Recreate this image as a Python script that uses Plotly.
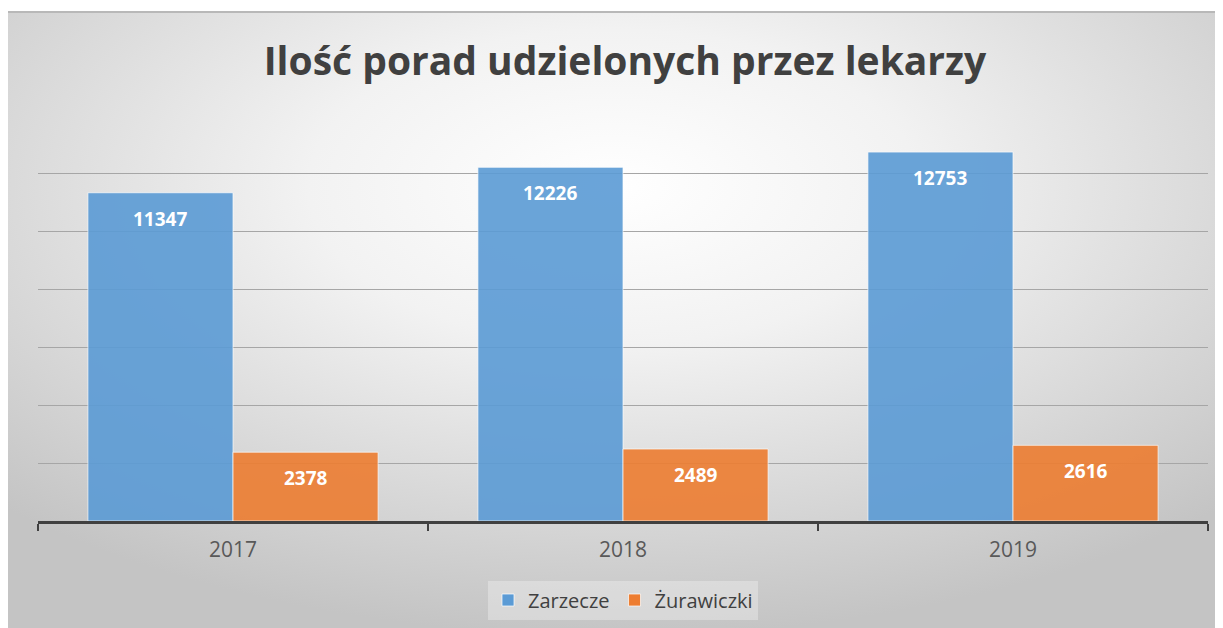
import base64
import plotly.graph_objects as go

# ---- data ----
years = ["2017", "2018", "2019"]
zarzecze = [11347, 12226, 12753]
zurawiczki = [2378, 2489, 2616]
series_names = ["Zarzecze", "Żurawiczki"]
title_text = "Ilość porad udzielonych przez lekarzy"

# ---- geometry (page has an 8px body margin, so figure coords = screen - 8) ----
OFF = 8
W, H = 1223, 628
PLOT_L, PLOT_R, PLOT_T, PLOT_B = 38 - OFF, 1208 - OFF, 116 - OFF, 521 - OFF
L, R, T, B = PLOT_L, W - PLOT_R, PLOT_T, H - PLOT_B
PW, PH = W - L - R, H - T - B
BARGAP = 0.256


def px_x(sx):
    return (sx - OFF - L) / PW


def px_y(sy):
    return (H - B - (sy - OFF)) / PH


BLUE = "#5B9BD5"
ORANGE = "#ED7D31"
FONT = "Open Sans"

svg = (
    '<svg xmlns="http://www.w3.org/2000/svg" width="1210" height="616" '
    'preserveAspectRatio="none" viewBox="0 0 1210 616">'
    '<defs><radialGradient id="g" cx="50%" cy="28%" r="72%" fx="50%" fy="28%">'
    '<stop offset="0%" stop-color="#ffffff"/>'
    '<stop offset="35%" stop-color="#f2f2f2"/>'
    '<stop offset="100%" stop-color="#c4c4c4"/>'
    '</radialGradient></defs>'
    '<rect x="0" y="0" width="1210" height="616" fill="url(#g)"/></svg>'
)
bg_src = "data:image/svg+xml;base64," + base64.b64encode(svg.encode()).decode()

fig = go.Figure()
for name, vals, col in [(series_names[0], zarzecze, BLUE), (series_names[1], zurawiczki, ORANGE)]:
    fig.add_trace(go.Bar(
        x=years, y=vals, name=name,
        marker=dict(color=col, opacity=0.9, line=dict(color="rgba(255,255,255,0.7)", width=1)),
        hoverinfo="x+y+name",
    ))

# data labels (positioned in data coordinates: category index + value)
bar_w = PW / len(years) * (1 - BARGAP) / 2
annotations = []
for vals, shift in [(zarzecze, -bar_w / 2), (zurawiczki, bar_w / 2)]:
    for i, v in enumerate(vals):
        annotations.append(dict(
            x=i, y=v, xref="x", yref="y", text=f"<b>{v}</b>", showarrow=False,
            xshift=shift, yshift=-11, yanchor="top", xanchor="center",
            font=dict(family=FONT, size=19, color="white"),
        ))

fig.update_layout(
    width=W, height=H,
    margin=dict(l=L, r=R, t=T, b=B, pad=0),
    paper_bgcolor="white",
    plot_bgcolor="rgba(0,0,0,0)",
    barmode="group", bargap=BARGAP, bargroupgap=0,
    font=dict(family=FONT, color="#595959"),
    title=dict(
        text=f"<b>{title_text}</b>", x=(625 - OFF) / W, xanchor="center",
        xref="container", y=1 - 53 / H, yref="container", yanchor="middle",
        font=dict(family=FONT, size=39, color="#404040"),
    ),
    xaxis=dict(
        type="category", categoryorder="array", categoryarray=years,
        range=[-0.5, len(years) - 0.5], autorange=False,
        tickson="boundaries", ticks="outside", ticklen=7,
        tickwidth=2, tickcolor="#404040", showline=True, linecolor="#404040",
        linewidth=2.5, showgrid=False, ticklabelstandoff=8, tickangle=0,
        tickfont=dict(family=FONT, size=21, color="#595959"),
    ),
    yaxis=dict(
        range=[0, 14000], autorange=False, dtick=2000, showticklabels=False,
        showgrid=True, gridcolor="#a6a6a6", gridwidth=1, zeroline=False,
        showline=False,
    ),
    legend=dict(
        orientation="h", x=0.5, xanchor="center", y=px_y(600), yanchor="middle",
        bgcolor="rgba(255,255,255,0.3)", itemwidth=30,
        font=dict(family=FONT, size=20, color="#404040"),
    ),
    annotations=annotations,
    images=[dict(
        source=bg_src, xref="paper", yref="paper",
        x=px_x(8), y=px_y(12), sizex=(1218 - 8) / PW, sizey=(636 - 12) / PH,
        xanchor="left", yanchor="top", sizing="stretch", layer="below",
    )],
    shapes=[dict(
        type="line", xref="paper", yref="paper",
        x0=px_x(8), x1=px_x(1218), y0=px_y(12), y1=px_y(12),
        line=dict(color="#b8b8b8", width=2), layer="below",
    )],
)

fig.write_html("out.html")
